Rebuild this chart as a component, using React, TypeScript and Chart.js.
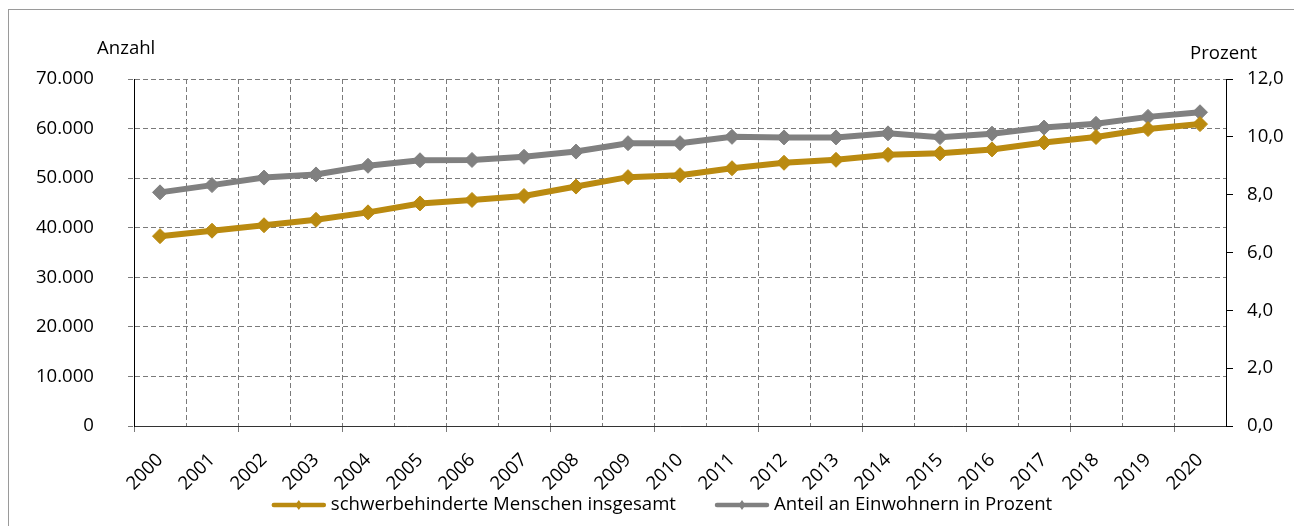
import React, { useEffect, useRef } from "react";
import { Chart, registerables } from "chart.js";

Chart.register(...registerables);

const FONT = "'Open Sans', sans-serif";
const FS = 18.6;

const years = [
  "2000", "2001", "2002", "2003", "2004", "2005", "2006", "2007", "2008", "2009", "2010",
  "2011", "2012", "2013", "2014", "2015", "2016", "2017", "2018", "2019", "2020",
];

const schwerbehinderte = [
  38300, 39400, 40500, 41600, 43100, 44900, 45600, 46400, 48300, 50200, 50600,
  52000, 53100, 53700, 54700, 55000, 55800, 57200, 58300, 59900, 60900,
];

const anteilProzent = [
  8.08, 8.33, 8.59, 8.7, 9.0, 9.19, 9.2, 9.31, 9.49, 9.78, 9.78,
  10.0, 9.98, 9.98, 10.12, 9.99, 10.11, 10.32, 10.45, 10.69, 10.85,
];

const seriesLabels = ["schwerbehinderte Menschen insgesamt", "Anteil an Einwohnern in Prozent"];
const seriesColors = ["#BA8A10", "#808080"];
const axisTitles = ["Anzahl", "Prozent"];

const leftAxis = { min: 0, max: 70000, step: 10000 };
const rightAxis = { min: 0, max: 12, step: 2 };

const GRID = "#7a7a7a";

function formatThousands(v: number): string {
  const s = Math.round(v).toString();
  return s.replace(/\B(?=(\d{3})+(?!\d))/g, ".");
}

const overlayPlugin = {
  id: "overlay",
  afterDraw(chart: any) {
    const { ctx, chartArea } = chart;
    ctx.save();
    ctx.font = `${FS}px ${FONT}`;
    ctx.fillStyle = "#000";
    ctx.textAlign = "left";
    ctx.textBaseline = "alphabetic";
    ctx.fillText(axisTitles[0], chartArea.left - 37, chartArea.top - 25);
    ctx.fillText(axisTitles[1], chartArea.right - 36, chartArea.top - 20);

    // legend
    const sample = 54;
    const gap = 5;
    const itemGap = 39;
    const datasets = chart.data.datasets;
    const widths = datasets.map((d: any) => sample + gap + ctx.measureText(d.label).width);
    const total = widths.reduce((a: number, b: number) => a + b, 0) + itemGap * (widths.length - 1);
    let x = (chartArea.left + chartArea.right) / 2 - 18 - total / 2;
    const y = chart.height - 21;
    datasets.forEach((d: any, i: number) => {
      ctx.strokeStyle = d.borderColor;
      ctx.lineWidth = 4.5;
      ctx.lineCap = "round";
      ctx.beginPath();
      ctx.moveTo(x + 2, y);
      ctx.lineTo(x + sample - 2, y);
      ctx.stroke();
      const cx = x + sample / 2;
      ctx.fillStyle = d.borderColor;
      ctx.beginPath();
      ctx.moveTo(cx, y - 5);
      ctx.lineTo(cx + 3.5, y);
      ctx.lineTo(cx, y + 5);
      ctx.lineTo(cx - 3.5, y);
      ctx.closePath();
      ctx.fill();
      ctx.fillStyle = "#000";
      ctx.textBaseline = "middle";
      ctx.fillText(d.label, x + sample + gap, y);
      x += widths[i] + itemGap;
    });
    ctx.restore();
  },
};

export default function App() {
  const canvasRef = useRef<HTMLCanvasElement | null>(null);

  useEffect(() => {
    if (!canvasRef.current) return;
    Chart.defaults.font.family = FONT;
    Chart.defaults.font.size = FS;
    Chart.defaults.color = "#000";

    const chart = new Chart(canvasRef.current, {
      type: "line",
      data: {
        labels: years,
        datasets: [
          {
            label: seriesLabels[0],
            data: schwerbehinderte,
            yAxisID: "y",
            borderColor: seriesColors[0],
            backgroundColor: seriesColors[0],
            pointBackgroundColor: seriesColors[0],
            pointBorderColor: seriesColors[0],
            borderWidth: 6,
            pointStyle: "rectRot",
            pointRadius: 7.5,
            pointBorderWidth: 1,
            tension: 0,
          },
          {
            label: seriesLabels[1],
            data: anteilProzent,
            yAxisID: "y1",
            borderColor: seriesColors[1],
            backgroundColor: seriesColors[1],
            pointBackgroundColor: seriesColors[1],
            pointBorderColor: seriesColors[1],
            borderWidth: 6,
            pointStyle: "rectRot",
            pointRadius: 7.5,
            pointBorderWidth: 1,
            tension: 0,
          },
        ],
      },
      options: {
        responsive: false,
        animation: false,
        layout: { padding: { top: 79, left: 0, right: 0, bottom: 0 } },
        plugins: {
          legend: { display: false },
          tooltip: { enabled: false },
        },
        scales: {
          x: {
            type: "category",
            offset: true,
            grid: {
              offset: true,
              color: GRID,
              lineWidth: 1,
              tickLength: 6,
              tickBorderDash: [],
              tickColor: (c: any) => (typeof c.index === "number" && c.index % 2 === 0 ? GRID : "rgba(0,0,0,0)"),
            },
            border: { color: "#333", width: 1, dash: [5, 3] },
            ticks: {
              autoSkip: false,
              maxRotation: 45,
              minRotation: 45,
              padding: 17,
              font: { size: FS, family: FONT },
              color: "#000",
            },
            afterFit: (s: any) => {
              s.height = 100;
            },
          },
          y: {
            type: "linear",
            position: "left",
            min: leftAxis.min,
            max: leftAxis.max,
            ticks: {
              stepSize: leftAxis.step,
              padding: 34,
              font: { size: FS, family: FONT },
              color: "#000",
              callback: (v: any) => formatThousands(Number(v)),
            },
            grid: {
              color: GRID,
              lineWidth: 1,
              tickLength: 6,
              tickBorderDash: [5, 3],
            },
            border: { color: "#000", width: 1, dash: [5, 3] },
            afterFit: (s: any) => {
              s.width = 134;
            },
          },
          y1: {
            type: "linear",
            position: "right",
            min: rightAxis.min,
            max: rightAxis.max,
            ticks: {
              stepSize: rightAxis.step,
              padding: 14,
              font: { size: FS, family: FONT },
              color: "#000",
              callback: (v: any) => Number(v).toFixed(1).replace(".", ","),
            },
            grid: {
              drawOnChartArea: false,
              color: "#000",
              tickColor: "#000",
              tickLength: 7,
              tickBorderDash: [],
            },
            border: { color: "#000", width: 1 },
            afterFit: (s: any) => {
              s.width = 68;
            },
          },
        },
      },
      plugins: [overlayPlugin],
    });

    return () => {
      chart.destroy();
    };
  }, []);

  return (
    <div style={{ position: "absolute", left: 0, top: 0, width: 1294, height: 526, overflow: "hidden", background: "#fff" }}>
      <div
        style={{
          position: "absolute",
          left: 8,
          top: 9,
          width: 1320,
          height: 600,
          border: "1px solid #9a9a9a",
          boxSizing: "border-box",
        }}
      />
      <canvas
        ref={canvasRef}
        width={1294}
        height={526}
        style={{ position: "absolute", left: 0, top: 0, width: 1294, height: 526 }}
      />
    </div>
  );
}
